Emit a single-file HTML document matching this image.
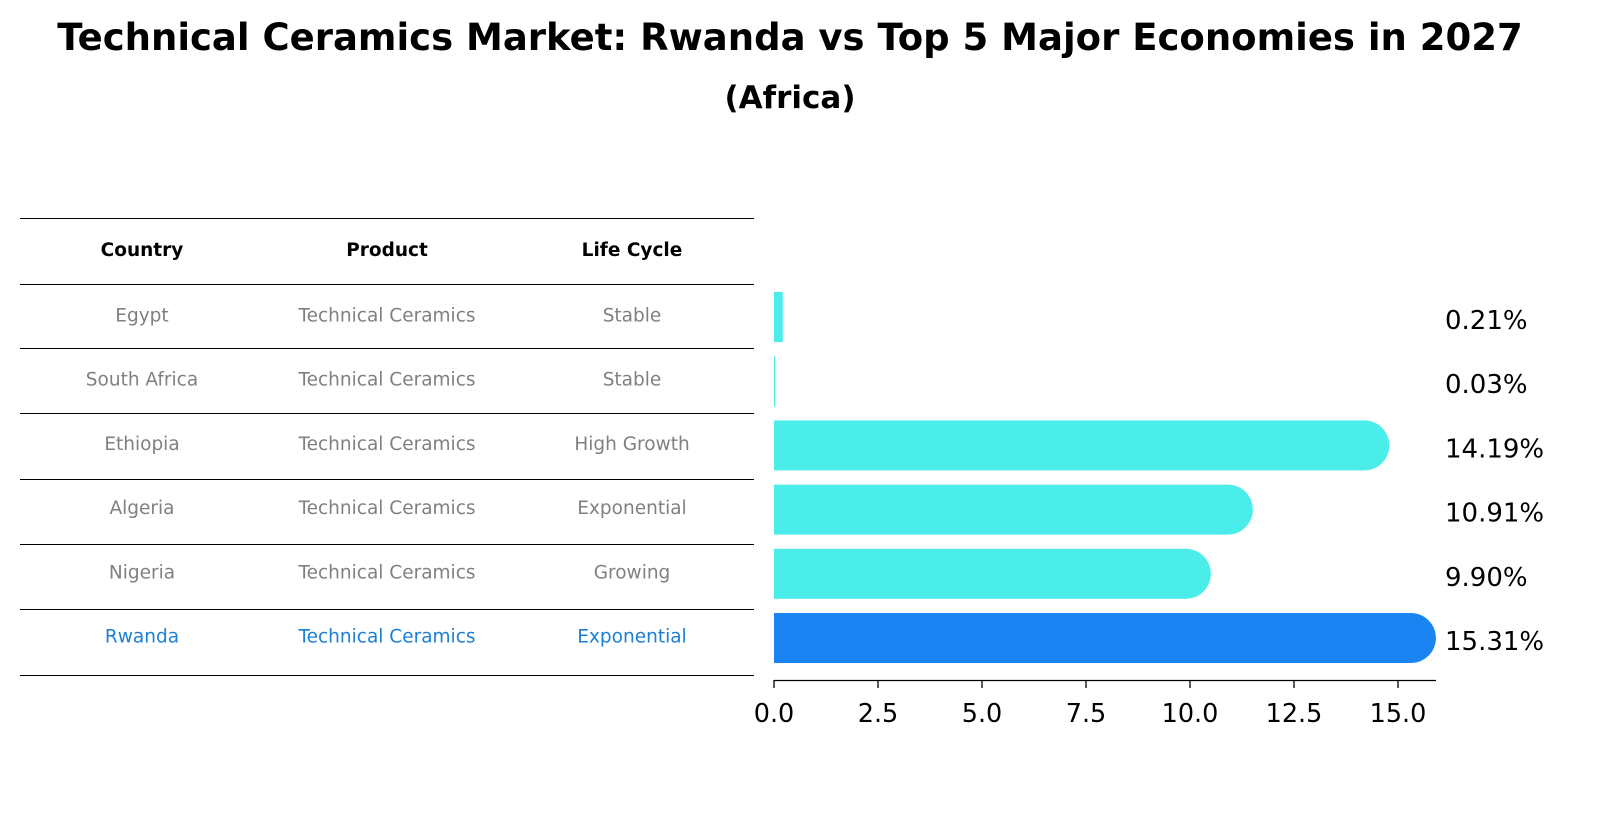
<!DOCTYPE html>
<html><head><meta charset="utf-8"><style>
body{margin:0;background:#fff;font-family:"Liberation Sans","DejaVu Sans",sans-serif}
</style></head><body>
<svg width="1604" height="823" xmlns="http://www.w3.org/2000/svg" font-family="DejaVu Sans, Liberation Sans, sans-serif">
<text x="790" y="50" text-anchor="middle" font-size="37" font-weight="bold">Technical Ceramics Market: Rwanda vs Top 5 Major Economies in 2027</text>
<text x="790" y="108" text-anchor="middle" font-size="31" font-weight="bold">(Africa)</text>
<g id="table"></g>
<g id="bars"></g>
<g id="axis"></g>
</svg>
<script>
const countries=["Egypt","South Africa","Ethiopia","Algeria","Nigeria","Rwanda"];
const products=["Technical Ceramics","Technical Ceramics","Technical Ceramics","Technical Ceramics","Technical Ceramics","Technical Ceramics"];
const lifecycles=["Stable","Stable","High Growth","Exponential","Growing","Exponential"];
const values=[0.21,0.03,14.19,10.91,9.90,15.31];
const ticks=[0,2.5,5,7.5,10,12.5,15];
const NS="http://www.w3.org/2000/svg";
function mk(t,a,p){const e=document.createElementNS(NS,t);for(const k in a)e.setAttribute(k,a[k]);p.appendChild(e);return e;}
const x=v=>774+v*41.6;
const rowY=i=>317.5+i*64.2;
const tbl=document.getElementById('table');
const lines=[218,284,348,413,479,544,609,675];
lines.forEach(y=>{const l=mk('line',{x1:20,x2:754,y1:y+0.5,y2:y+0.5,stroke:'#000','stroke-width':1,'shape-rendering':'crispEdges'},tbl);

});
const colX=[142,387,632];
["Country","Product","Life Cycle"].forEach((h,j)=>{const t=mk('text',{x:colX[j],y:256,'text-anchor':'middle','font-size':18.5,'font-weight':'bold'},tbl);t.textContent=h;

});
countries.forEach((c,i)=>{const col=c==="Rwanda"?'#1a7fd6':'#808080';
[c,products[i],lifecycles[i]].forEach((s,j)=>{const t=mk('text',{x:colX[j],y:rowY(i)+4,'text-anchor':'middle','font-size':18.5,fill:col},tbl);t.textContent=s;

});});
const bars=document.getElementById('bars');
values.forEach((v,i)=>{const yc=rowY(i)-0.5,h=50,r=25;const col=countries[i]==="Rwanda"?'#1a84f2':'#4bedea';
const w=x(v)-774;
const b=mk('rect',{x:774,y:yc-h/2,width:Math.max(w,1),height:h,fill:col},bars);


if(w>r){const c=mk('circle',{cx:x(v),cy:yc,r:r,fill:col},bars);

}
const t=mk('text',{x:1445,y:yc+12,'font-size':26},bars);t.textContent=v.toFixed(2)+'%';

});
const ax=document.getElementById('axis');
mk('line',{x1:774,x2:1436,y1:680.5,y2:680.5,stroke:'#000','stroke-width':1.3},ax);
ticks.forEach(v=>{mk('line',{x1:x(v),x2:x(v),y1:680,y2:688,stroke:'#000','stroke-width':1.3},ax);
const t=mk('text',{x:x(v),y:722,'text-anchor':'middle','font-size':25.5},ax);t.textContent=v.toFixed(1);

});
</script>
</body></html>
